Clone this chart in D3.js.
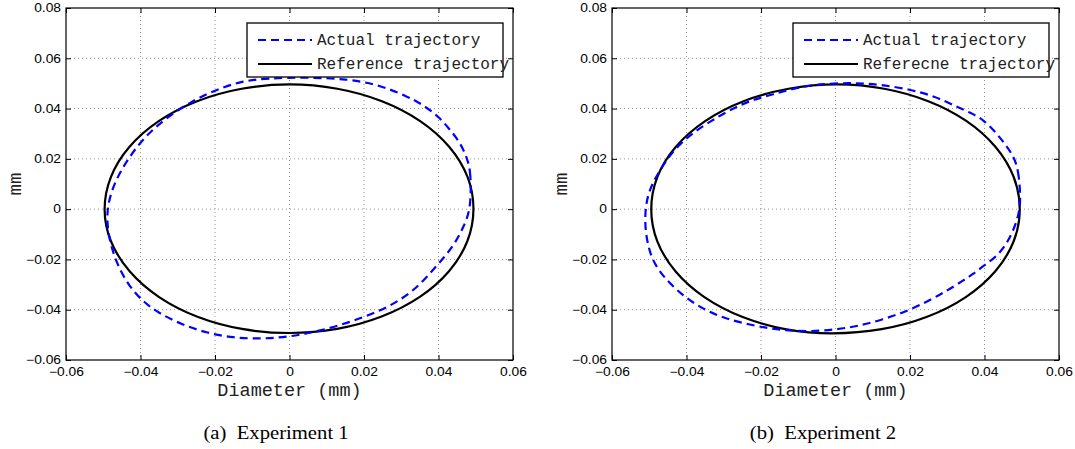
<!DOCTYPE html>
<html>
<head>
<meta charset="utf-8">
<script src="https://cdn.jsdelivr.net/npm/d3@7"></script>
<style>
  body { margin: 0; background: #fff; }
  .tick text { font-family: "Liberation Sans", Arial, sans-serif; font-size: 12px; fill: #000; }
</style>
</head>
<body>
<svg id="fig" width="1075" height="449"></svg>
<script>
// tick values (same for both panels)
const xTicks = [-0.06, -0.04, -0.02, 0, 0.02, 0.04, 0.06];
const yTicks = [-0.06, -0.04, -0.02, 0, 0.02, 0.04, 0.06, 0.08];

// Experiment 1 - reference (black) and actual (blue dashed), [x, y] in mm
const ref1 = [[0.0499, 0], [0.0484, 0.0128], [0.0434, 0.0250], [0.0355, 0.0354], [0.0251, 0.0434],
  [0.0130, 0.0484], [0.0000, 0.0502], [-0.0130, 0.0484], [-0.0251, 0.0434], [-0.0355, 0.0354],
  [-0.0435, 0.0250], [-0.0485, 0.0129], [-0.0502, 0], [-0.0485, -0.0129], [-0.0434, -0.0250],
  [-0.0354, -0.0354], [-0.0250, -0.0433], [-0.0129, -0.0482], [0.0000, -0.0498], [0.0129, -0.0482],
  [0.0250, -0.0432], [0.0354, -0.0353], [0.0433, -0.0250], [0.0483, -0.0129]];
const act1 = [[0.0487, 0], [0.0487, 0.0145], [0.0478, 0.0198], [0.0459, 0.0264], [0.0427, 0.0323],
  [0.0399, 0.0370], [0.0357, 0.0416], [0.0316, 0.0449], [0.0237, 0.0496], [0.0154, 0.0518],
  [0.0050, 0.0524], [-0.0058, 0.0521], [-0.0132, 0.0509], [-0.0206, 0.0469], [-0.0261, 0.0430],
  [-0.0317, 0.0377], [-0.0368, 0.0317], [-0.0409, 0.0251], [-0.0446, 0.0171], [-0.0474, 0.0091],
  [-0.0491, 0], [-0.0488, -0.0094], [-0.0469, -0.0200], [-0.0437, -0.0293], [-0.0400, -0.0359],
  [-0.0354, -0.0412], [-0.0289, -0.0459], [-0.0224, -0.0492], [-0.0151, -0.0512], [-0.0077, -0.0516],
  [0.0000, -0.0508], [0.0080, -0.0485], [0.0173, -0.0445], [0.0265, -0.0392], [0.0339, -0.0320],
  [0.0394, -0.0227], [0.0441, -0.0147], [0.0468, -0.0068]];

// Experiment 2
const ref2 = [[0.0500, 0], [0.0484, 0.0129], [0.0434, 0.0251], [0.0355, 0.0355], [0.0252, 0.0434],
  [0.0132, 0.0484], [0.0005, 0.0502], [-0.0128, 0.0484], [-0.0250, 0.0434], [-0.0354, 0.0354],
  [-0.0434, 0.0250], [-0.0484, 0.0129], [-0.0500, 0], [-0.0484, -0.0129], [-0.0434, -0.0251],
  [-0.0355, -0.0355], [-0.0252, -0.0434], [-0.0132, -0.0484], [-0.0010, -0.0499], [0.0126, -0.0483],
  [0.0249, -0.0433], [0.0354, -0.0354], [0.0434, -0.0250], [0.0484, -0.0129]];
const act2 = [[0.0497, 0.0038], [0.0493, 0.0131], [0.0483, 0.0198], [0.0460, 0.0250], [0.0428, 0.0310],
  [0.0396, 0.0357], [0.0363, 0.0383], [0.0322, 0.0410], [0.0266, 0.0449], [0.0201, 0.0476],
  [0.0118, 0.0496], [0.0053, 0.0502], [-0.0021, 0.0500], [-0.0095, 0.0487], [-0.0169, 0.0456],
  [-0.0234, 0.0430], [-0.0289, 0.0390], [-0.0335, 0.0350], [-0.0382, 0.0304], [-0.0419, 0.0257],
  [-0.0446, 0.0211], [-0.0470, 0.0158], [-0.0488, 0.0111], [-0.0502, 0.0065], [-0.0511, 0],
  [-0.0511, -0.0081], [-0.0502, -0.0154], [-0.0488, -0.0213], [-0.0460, -0.0273], [-0.0414, -0.0339],
  [-0.0363, -0.0392], [-0.0303, -0.0432], [-0.0234, -0.0459], [-0.0160, -0.0479], [-0.0076, -0.0488],
  [0.0000, -0.0479], [0.0062, -0.0465], [0.0127, -0.0439], [0.0192, -0.0406], [0.0248, -0.0366],
  [0.0298, -0.0326], [0.0340, -0.0286], [0.0368, -0.0260], [0.0396, -0.0227], [0.0428, -0.0194],
  [0.0456, -0.0147], [0.0479, -0.0081], [0.0493, -0.0015]];

const legend1 = ["Actual trajectory", "Reference trajectory"];
const legend2 = ["Actual trajectory", "Referecne trajectory"];
const captions = ["(a)  Experiment 1", "(b)  Experiment 2"];

const svg = d3.select("#fig");
const TXT_STRETCH = 1.15;   // the original figure is a bit wider than tall

const panels = [
  { left: 66, right: 513, ref: ref1, act: act1, legend: legend1, caption: captions[0], capX: 276 },
  { left: 612, right: 1059, ref: ref2, act: act2, legend: legend2, caption: captions[1], capX: 823 }
];
const plotTop = 8, plotBottom = 360;

function fmt(d) {
  if (d === 0) return "0";
  return d.toFixed(2).replace("-", "\u2212");
}

panels.forEach(p => {
  const x = d3.scaleLinear().domain([-0.06, 0.06]).range([p.left, p.right]);
  const y = d3.scaleLinear().domain([-0.06, 0.08]).range([plotBottom, plotTop]);
  const g = svg.append("g");

  // grid
  g.append("g").selectAll("line").data(xTicks.slice(1, -1)).join("line")
    .attr("x1", d => x(d)).attr("x2", d => x(d)).attr("y1", plotTop).attr("y2", plotBottom)
    .attr("stroke", "#777").attr("stroke-width", 0.8).attr("stroke-dasharray", "1,3");
  g.append("g").selectAll("line").data(yTicks.slice(1, -1)).join("line")
    .attr("x1", p.left).attr("x2", p.right).attr("y1", d => y(d)).attr("y2", d => y(d))
    .attr("stroke", "#777").attr("stroke-width", 0.8).attr("stroke-dasharray", "1,3");

  // smooth closed curves through the read-off points
  const line = d3.line().x(d => x(d[0])).y(d => y(d[1])).curve(d3.curveBasisClosed);

  g.append("path").attr("d", line(p.ref))
    .attr("fill", "none").attr("stroke", "#000").attr("stroke-width", 2.2);
  g.append("path").attr("d", line(p.act))
    .attr("fill", "none").attr("stroke", "#0000ff").attr("stroke-width", 2.2)
    .attr("stroke-dasharray", "8,5");

  // axes, ticks pointing inward
  const xb = g.append("g").attr("transform", `translate(0,${plotBottom})`)
    .call(d3.axisBottom(x).tickValues(xTicks).tickFormat(fmt).tickSize(-5).tickSizeOuter(0).tickPadding(7));
  const yl = g.append("g").attr("transform", `translate(${p.left},0)`)
    .call(d3.axisLeft(y).tickValues(yTicks).tickFormat(fmt).tickSize(-5).tickSizeOuter(0).tickPadding(5));
  g.append("g").attr("transform", `translate(0,${plotTop})`)
    .call(d3.axisTop(x).tickValues(xTicks).tickFormat("").tickSize(-5).tickSizeOuter(0));
  g.append("g").attr("transform", `translate(${p.right},0)`)
    .call(d3.axisRight(y).tickValues(yTicks).tickFormat("").tickSize(-5).tickSizeOuter(0));
  g.selectAll(".domain").remove();
  g.selectAll(".tick line").attr("stroke", "#000");

  xb.selectAll("text").attr("transform", `scale(${TXT_STRETCH},1)`);
  yl.selectAll("text").attr("x", -5 / TXT_STRETCH).attr("transform", `scale(${TXT_STRETCH},1)`);

  g.append("rect").attr("x", p.left).attr("y", plotTop)
    .attr("width", p.right - p.left).attr("height", plotBottom - plotTop)
    .attr("fill", "none").attr("stroke", "#000").attr("stroke-width", 1.2);

  // legend
  const lx = p.right - 266, ly = 23;
  const lg = g.append("g");
  lg.append("rect").attr("x", lx).attr("y", ly).attr("width", 256).attr("height", 54)
    .attr("fill", "#fff").attr("stroke", "#000").attr("stroke-width", 1.3);
  const rows = [
    { label: p.legend[0], color: "#0000ff", dash: "8,5", yy: 40 },
    { label: p.legend[1], color: "#000", dash: null, yy: 64 }
  ];
  rows.forEach(r => {
    lg.append("line").attr("x1", lx + 11).attr("x2", lx + 65).attr("y1", r.yy).attr("y2", r.yy)
      .attr("stroke", r.color).attr("stroke-width", 2.2).attr("stroke-dasharray", r.dash);
    lg.append("text").attr("x", lx + 70).attr("y", r.yy + 5)
      .attr("font-family", "'Liberation Mono', 'Courier New', monospace").attr("font-size", 16)
      .attr("fill", "#222").text(r.label);
  });

  // axis labels
  g.append("text").attr("x", (p.left + p.right) / 2).attr("y", 396).attr("text-anchor", "middle")
    .attr("font-family", "'Liberation Mono', 'Courier New', monospace").attr("font-size", 18.5)
    .attr("fill", "#222").text("Diameter (mm)");
  g.append("text").attr("transform", `translate(${p.left - 52},${(plotTop + plotBottom) / 2}) rotate(-90)`)
    .attr("text-anchor", "middle").attr("dy", "0.35em")
    .attr("font-family", "'Liberation Mono', 'Courier New', monospace").attr("font-size", 19)
    .attr("fill", "#222").text("mm");

  // caption
  g.append("text").attr("transform", `translate(${p.capX},439) scale(${TXT_STRETCH},1)`)
    .attr("text-anchor", "middle").attr("xml:space", "preserve")
    .attr("font-family", "'Liberation Serif', 'Times New Roman', serif").attr("font-size", 18)
    .attr("fill", "#000").text(p.caption);
});
</script>
</body>
</html>
